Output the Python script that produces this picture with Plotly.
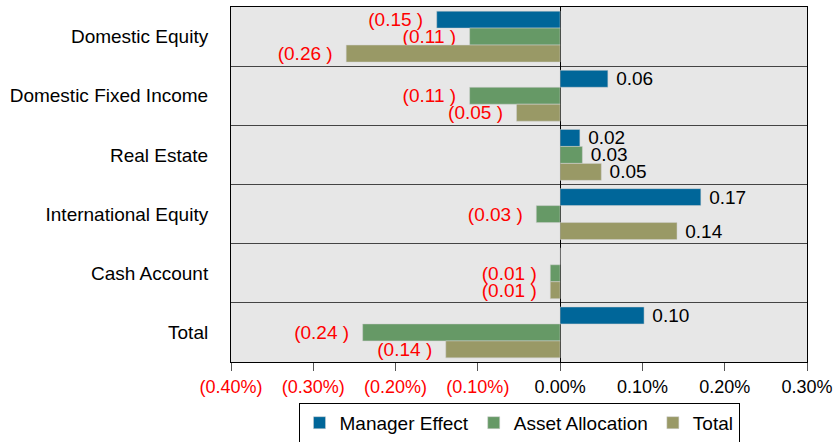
import plotly.graph_objects as go

categories = ["Domestic Equity", "Domestic Fixed Income", "Real Estate",
              "International Equity", "Cash Account", "Total"]
manager_effect = [-0.15, 0.058, 0.024, 0.171, 0.0, 0.102]
asset_allocation = [-0.11, -0.11, 0.027, -0.029, -0.012, -0.24]
total = [-0.26, -0.053, 0.05, 0.142, -0.012, -0.139]

tick_vals = [-0.4, -0.3, -0.2, -0.1, 0.0, 0.1, 0.2, 0.3]
tick_text = ["(0.40%)", "(0.30%)", "(0.20%)", "(0.10%)", "0.00%", "0.10%", "0.20%", "0.30%"]

FONT = "Liberation Sans, Arial, sans-serif"


def labels(vals):
    out = []
    for v in vals:
        if v == 0:
            out.append("")
        elif v < 0:
            out.append("(%.2f )&nbsp;&nbsp;" % abs(v))
        else:
            out.append("&nbsp;%.2f" % v)
    return out


def label_colors(vals):
    return ["red" if v < 0 else "black" for v in vals]


series = [
    ("Manager Effect", manager_effect, "#006699"),
    ("Asset Allocation", asset_allocation, "#669966"),
    ("Total", total, "#999966"),
]

fig = go.Figure()
for name, vals, color in series:
    fig.add_trace(go.Bar(
        y=categories, x=vals, name=name, orientation="h",
        marker=dict(color=color, line=dict(color="#d0d0d0", width=0.5)),
        text=labels(vals), textposition="outside",
        textfont=dict(color=label_colors(vals), size=19, family=FONT),
        constraintext="none", cliponaxis=False,
    ))

tick_html = [
    '<span style="color:red">%s</span>' % t if v < 0 else t
    for v, t in zip(tick_vals, tick_text)
]

fig.update_layout(
    width=836, height=442,
    barmode="group", bargap=0.14, bargroupgap=0,
    plot_bgcolor="#e7e7e7", paper_bgcolor="white",
    font=dict(family=FONT, size=19, color="black"),
    margin=dict(l=231, r=29, t=7, b=80, autoexpand=False),
    showlegend=True,
    legend=dict(orientation="h", x=0.5, xanchor="center", y=-0.115, yanchor="top",
                bordercolor="black", borderwidth=1, bgcolor="white",
                font=dict(size=19), traceorder="normal"),
    xaxis=dict(range=[-0.4, 0.3], tickvals=tick_vals, ticktext=tick_html,
               showgrid=False, zeroline=True, zerolinecolor="black", zerolinewidth=1,
               ticks="outside", ticklen=8, tickcolor="#555", showline=True,
               linecolor="black", mirror=True, tickfont=dict(size=18),
               automargin=False, ticklabeloverflow="allow"),
    yaxis=dict(autorange="reversed", tickson="boundaries", showgrid=True,
               gridcolor="#444", gridwidth=1, ticks="", ticklabelstandoff=18,
               showline=True, linecolor="black",
               mirror=True, tickfont=dict(size=19), automargin=False),
)

# drop the browser's default 8px body margin so the figure fills the window
fig.write_html("out.html", config={"displayModeBar": False},
               post_script="document.body.style.margin='0';"
                           "document.body.style.overflow='hidden';")
